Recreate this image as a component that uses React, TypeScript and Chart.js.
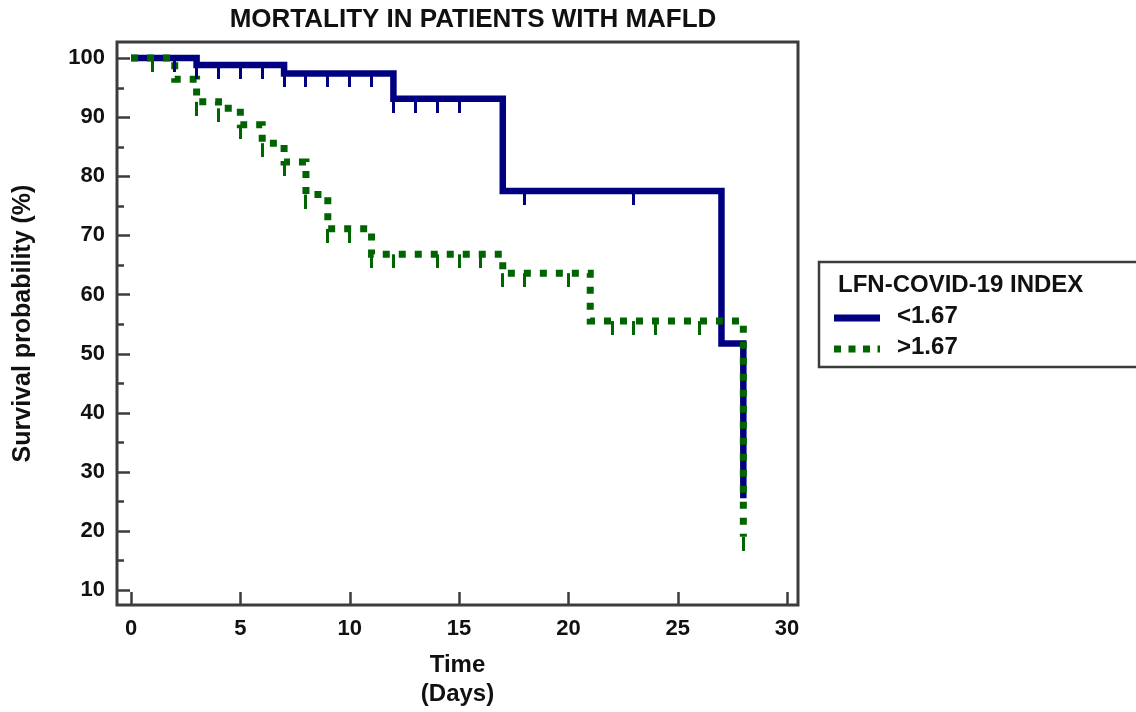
import React, { useEffect, useRef } from 'react';
import { Chart, registerables } from 'chart.js';

Chart.register(...registerables);

// ---------- text ----------
const chartTitle = 'MORTALITY IN PATIENTS WITH MAFLD';
const xAxisTitle = ['Time', '(Days)'];
const yAxisTitle = 'Survival probability (%)';
const legendTitle = 'LFN-COVID-19 INDEX';
const seriesNames = ['<1.67', '>1.67'];

// ---------- ticks ----------
const xTickValues = [0, 5, 10, 15, 20, 25, 30];
const yMajorTicks = [10, 20, 30, 40, 50, 60, 70, 80, 90, 100];
const yMinorTicks = [15, 25, 35, 45, 55, 65, 75, 85, 95];

// ---------- series: LFN-COVID-19 index < 1.67 ----------
const lowDays = [0, 3, 7, 12, 17, 27, 28];
const lowSurvival = [100, 98.8, 97.4, 93.1, 77.5, 51.7, 25.5];
const lowCensorDays = [2, 3, 4, 5, 6, 7, 8, 9, 10, 11, 12, 13, 14, 15, 18, 23];
const lowCensorSurvival = [100, 98.8, 98.8, 98.8, 98.8, 97.4, 97.4, 97.4, 97.4, 97.4, 93.1, 93.1, 93.1, 93.1, 77.5, 77.5];

// ---------- series: LFN-COVID-19 index > 1.67 ----------
const highDays = [0, 2, 3, 4, 5, 6, 7, 8, 9, 11, 17, 21, 28];
const highSurvival = [100, 96.4, 92.6, 91.5, 88.7, 85.6, 82.4, 76.9, 71.1, 66.8, 63.6, 55.5, 19];
const highCensorDays = [1, 3, 4, 5, 6, 7, 8, 9, 10, 11, 12, 14, 15, 16, 17, 18, 20, 22, 23, 24, 26, 28];
const highCensorSurvival = [100, 92.6, 91.5, 88.7, 85.6, 82.4, 76.9, 71.1, 71.1, 66.8, 66.8, 66.8, 66.8, 66.8, 63.6, 63.6, 63.6, 55.5, 55.5, 55.5, 55.5, 19];

const BLUE = '#000080';
const GREEN = '#006400';
const FRAME = '#3c3c3c';
const TEXT = '#111111';
const FONT = '"Liberation Sans", Arial, Helvetica, sans-serif';

function censorMark(color: string): HTMLCanvasElement {
  const c = document.createElement('canvas');
  c.width = 3;
  c.height = 28;
  const g = c.getContext('2d')!;
  g.fillStyle = color;
  g.fillRect(0, 14, 3, 14);
  return c;
}

const framePlugin = {
  id: 'kmFrame',
  afterDraw(chart: any) {
    const { ctx, chartArea: a, scales } = chart;
    ctx.save();
    ctx.strokeStyle = FRAME;
    ctx.lineWidth = 3;
    ctx.strokeRect(a.left, a.top, a.right - a.left, a.bottom - a.top);
    ctx.lineWidth = 2.5;
    ctx.beginPath();
    xTickValues.forEach((v) => {
      const px = Math.round(scales.x.getPixelForValue(v)) + 0.5;
      ctx.moveTo(px, a.bottom);
      ctx.lineTo(px, a.bottom - 13);
    });
    yMajorTicks.forEach((v) => {
      const py = Math.round(scales.y.getPixelForValue(v)) + 0.5;
      ctx.moveTo(a.left, py);
      ctx.lineTo(a.left + 13, py);
    });
    yMinorTicks.forEach((v) => {
      const py = Math.round(scales.y.getPixelForValue(v)) + 0.5;
      ctx.moveTo(a.left, py);
      ctx.lineTo(a.left + 7, py);
    });
    ctx.stroke();

    // main title
    ctx.fillStyle = TEXT;
    ctx.font = `bold 26px ${FONT}`;
    ctx.textAlign = 'center';
    ctx.textBaseline = 'middle';
    ctx.fillText(chartTitle, a.left + 356, 20);

    // legend
    const x0 = a.right + 21;
    const y0 = 262;
    ctx.lineWidth = 2.5;
    ctx.strokeStyle = FRAME;
    ctx.strokeRect(x0, y0, 340, 105);
    ctx.font = `bold 24px ${FONT}`;
    ctx.textAlign = 'left';
    ctx.fillText(legendTitle, x0 + 19, y0 + 23);
    const ds = chart.data.datasets;
    [0, 1].forEach((i) => {
      const y = y0 + 56 + i * 31;
      ctx.beginPath();
      ctx.strokeStyle = ds[i].borderColor;
      ctx.lineWidth = 7;
      ctx.lineCap = 'butt';
      ctx.setLineDash(i === 1 ? [7, 7.5] : []);
      ctx.moveTo(x0 + 15, y);
      ctx.lineTo(x0 + 61, y);
      ctx.stroke();
      ctx.setLineDash([]);
      ctx.fillStyle = TEXT;
      ctx.fillText(ds[i].label, x0 + 78, y - 2);
    });
    ctx.restore();
  },
};

export default function App() {
  const canvasRef = useRef<HTMLCanvasElement>(null);

  useEffect(() => {
    const canvas = canvasRef.current!;
    Chart.defaults.font.family = FONT;
    const chart = new Chart(canvas, {
      type: 'line',
      data: {
        datasets: [
          {
            label: seriesNames[0],
            data: lowDays.map((d, i) => ({ x: d, y: lowSurvival[i] })),
            borderColor: BLUE,
            backgroundColor: BLUE,
            borderWidth: 6.5,
            stepped: 'before',
            pointRadius: 0,
            fill: false,
            borderCapStyle: 'butt',
            borderJoinStyle: 'miter',
            order: 4,
          },
          {
            label: seriesNames[1],
            data: highDays.map((d, i) => ({ x: d, y: highSurvival[i] })),
            borderColor: GREEN,
            backgroundColor: GREEN,
            borderWidth: 7,
            borderDash: [7, 9],
            stepped: 'before',
            pointRadius: 0,
            fill: false,
            borderCapStyle: 'butt',
            borderJoinStyle: 'miter',
            order: 3,
          },
          {
            label: seriesNames[0] + ' censored',
            data: lowCensorDays.map((d, i) => ({ x: d, y: lowCensorSurvival[i] })),
            showLine: false,
            pointStyle: censorMark(BLUE),
            pointRadius: 5,
            borderColor: BLUE,
            backgroundColor: BLUE,
            order: 2,
          },
          {
            label: seriesNames[1] + ' censored',
            data: highCensorDays.map((d, i) => ({ x: d, y: highCensorSurvival[i] })),
            showLine: false,
            pointStyle: censorMark(GREEN),
            pointRadius: 5,
            borderColor: GREEN,
            backgroundColor: GREEN,
            order: 1,
          },
        ],
      },
      options: {
        responsive: false,
        animation: false,
        devicePixelRatio: 1,
        layout: { padding: { top: 42, right: 338, bottom: 0, left: 0 } },
        plugins: {
          legend: { display: false },
          title: { display: false },
          tooltip: { enabled: false },
        },
        scales: {
          x: {
            type: 'linear',
            min: -0.64,
            max: 30.5,
            afterBuildTicks: (s: any) => {
              s.ticks = xTickValues.map((v) => ({ value: v }));
            },
            afterFit: (s: any) => {
              s.height = 107;
            },
            grid: { display: false, drawTicks: false },
            border: { display: false },
            ticks: {
              font: { size: 22, weight: 'bold' },
              color: TEXT,
              padding: 11,
              maxRotation: 0,
              autoSkip: false,
            },
            title: {
              display: true,
              text: xAxisTitle,
              font: { size: 24, weight: 'bold' },
              color: TEXT,
              padding: { top: 0, bottom: 3 },
            },
          },
          y: {
            type: 'linear',
            min: 7.46,
            max: 102.71,
            afterBuildTicks: (s: any) => {
              s.ticks = yMajorTicks.map((v) => ({ value: v }));
            },
            afterFit: (s: any) => {
              s.width = 117;
            },
            grid: { display: false, drawTicks: false },
            border: { display: false },
            ticks: {
              font: { size: 22, weight: 'bold' },
              color: TEXT,
              padding: 12,
              autoSkip: false,
            },
            title: {
              display: true,
              text: yAxisTitle,
              font: { size: 25, weight: 'bold' },
              color: TEXT,
              padding: { top: 8, bottom: 0 },
            },
          },
        },
      } as any,
      plugins: [framePlugin],
    });
    return () => chart.destroy();
  }, []);

  return (
    <div style={{ position: 'absolute', left: 0, top: 0, width: 1136, height: 712, background: '#fff' }}>
      <canvas ref={canvasRef} width={1136} height={712} style={{ width: 1136, height: 712, display: 'block' }} />
    </div>
  );
}
